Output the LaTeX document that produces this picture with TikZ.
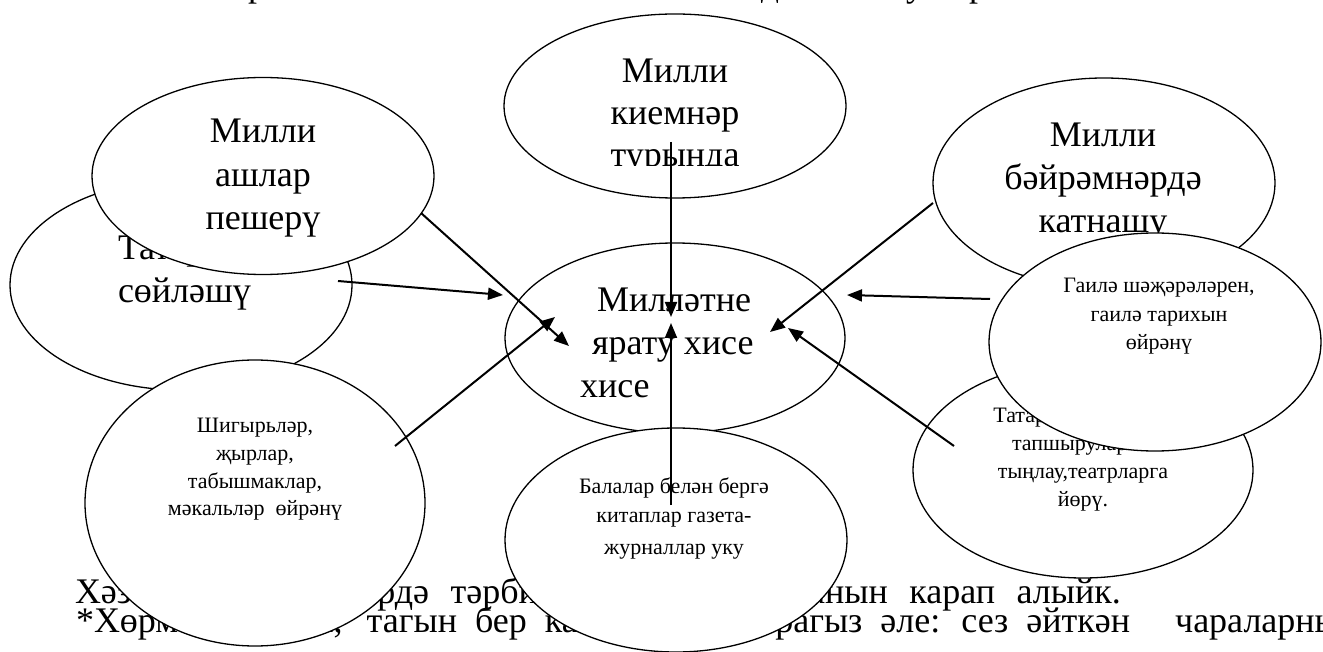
\documentclass[tikz,border=0pt]{standalone}
\usepackage{fontspec}
\setmainfont{Liberation Serif}
\usetikzlibrary{shapes.geometric,arrows.meta}
\newcommand\mybodyfont{\fontsize{36}{29}\selectfont\lineskiplimit=-100pt\relax}
\newcommand\firstsp{\spaceskip=21.5pt\relax}
\newcommand\secondsp{\spaceskip=18pt\relax}
\begin{document}
\begin{tikzpicture}[x=1pt,y=-1pt,
  bub/.style={ellipse,draw,fill=white,line width=1.3pt,inner sep=0pt,outer sep=0pt},
  big/.style={font=\fontsize{36}{42}\selectfont,anchor=base,inner sep=0pt,outer sep=0pt},
  sml/.style={font=\fontsize{22}{28}\selectfont,anchor=base,inner sep=0pt,outer sep=0pt},
  body/.style={font=\mybodyfont,align=left,anchor=base west,inner sep=0pt,outer sep=0pt},
  arr/.style={line width=2pt,-{Triangle[length=15pt,width=12pt]}}
]
\useasboundingbox (0,0) rectangle (1323,652);

% text of the page behind the diagram
\node[big] (d1) at (257,-3) {р};
\node[big] (d2) at (770,-3) {д};
\node[big] (d3) at (915,-3) {у};
\node[big] (d4) at (978,-3) {р};
% base anchor of this two-line node is the baseline of its last line
\node[body] (page) at (75,632) {\firstsp Хәзер исә гаиләләрдә тәрбиянең ничек барганын карап алыйк.\\
\hspace{1pt}\secondsp *Хөрмәтлеләрем,\hspace{24pt}тагын бер кат ныклап карагыз әле: сез әйткән\hspace{45pt}чараларны};

% left group
\node[bub,minimum width=342pt,minimum height=210pt] (tat) at (181,285) {};
\node[big,anchor=base west] (tat1) at (118,260) {Татарча};
\node[big,anchor=base west] (tat2) at (118,303) {сөйләшү};

\node[bub,minimum width=342pt,minimum height=197pt] (ash) at (263,176) {};
\node[big] (ash1) at (263,143) {Милли};
\node[big] (ash2) at (263,187) {ашлар};
\node[big] (ash3) at (263,230) {пешерү};

\node[bub,minimum width=340pt,minimum height=286pt] (shi) at (255,503) {};
\node[sml] (shi1) at (255,432) {Шигырьләр,};
\node[sml] (shi2) at (255,460) {җырлар,};
\node[sml] (shi3) at (255,488) {табышмаклар,};
\node[sml] (shi4) at (255,515) {мәкальләр\ \ өйрәнү};

% top
\node[bub,minimum width=342pt,minimum height=184pt] (kie) at (675,106) {};
\begin{scope}
\clip (500,0) rectangle (850,166);
\node[big] (kie1) at (675,83) {Милли};
\node[big] (kie2) at (675,125) {киемнәр};
\node[big] (kie3) at (675,167) {турында};
\end{scope}

% centre
\node[bub,minimum width=340pt,minimum height=190pt] (mil) at (675,338) {};
\node[big,anchor=base west] (mil1) at (597,312) {Милләтне};
\node[big,anchor=base west] (mil2) at (592,355) {ярату хисе};
\node[big,anchor=base west] (mil3) at (580,397) {хисе};

\node[bub,minimum width=342pt,minimum height=224pt] (bal) at (676,540) {};
\node[sml] (bal1) at (674,493) {Балалар белән бергә};
\node[sml] (bal2) at (674,522) {китаплар газета-};
\node[sml] (bal3) at (674,554) {журналлар уку};

% right group
\node[bub,minimum width=342pt,minimum height=210pt] (bay) at (1104,183) {};
\node[big] (bay1) at (1103,147) {Милли};
\node[big] (bay2) at (1103,190) {бәйрәмнәрдә};
\node[big] (bay3) at (1103,233) {катнашу};

\node[bub,minimum width=340pt,minimum height=216pt] (rad) at (1083,470) {};
\node[sml] (rad1) at (1083,422) {Татарстан радиосы};
\node[sml] (rad2) at (1083,450) {тапшыруларын};
\node[sml] (rad3) at (1083,478) {тыңлау,театрларга};
\node[sml] (rad4) at (1083,506) {йөрү.};

\node[bub,minimum width=332pt,minimum height=218pt] (gai) at (1155,342) {};
\node[sml] (gai1) at (1159,293) {Гаилә шәҗәрәләрен,};
\node[sml] (gai2) at (1159,322) {гаилә тарихын};
\node[sml] (gai3) at (1159,350) {өйрәнү};

% connectors
\coordinate (a1s) at (338,281); \coordinate (a1e) at (503,295);
\coordinate (a2s) at (421,213); \coordinate (a2e) at (569,346);
\coordinate (a3s) at (395,446); \coordinate (a3e) at (555,317);
\coordinate (a4s) at (671,142); \coordinate (a4e) at (671,317);
\coordinate (a5s) at (671,505); \coordinate (a5e) at (671,323);
\coordinate (a6s) at (933,203); \coordinate (a6e) at (770,332);
\coordinate (a7s) at (990,299); \coordinate (a7e) at (847,295);
\coordinate (a8s) at (954,446); \coordinate (a8e) at (788,328);
\foreach \i in {1,...,8} {\draw[arr] (a\i s) -- (a\i e);}
\end{tikzpicture}
\end{document}
